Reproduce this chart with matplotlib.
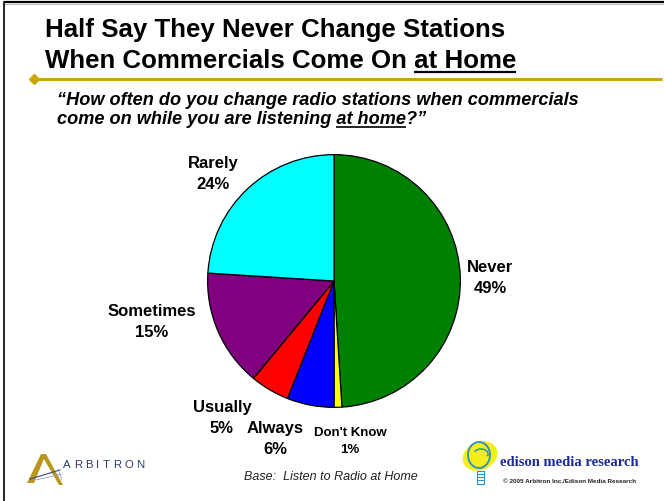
import matplotlib

matplotlib.use("Agg")

import matplotlib.pyplot as plt
from matplotlib.patches import Ellipse, Polygon, Rectangle, Arc

plt.rcParams["font.family"] = ["Liberation Sans", "DejaVu Sans"]

# survey answers, clockwise from 12 o'clock
categories = ["Never", "Don't Know", "Always", "Usually", "Sometimes", "Rarely"]
shares = [49, 1, 6, 5, 15, 24]
colors = ["#008000", "#FFFF00", "#0000FF", "#FF0000", "#800080", "#00FFFF"]

W, H = 664, 502
GOLD = "#C9A610"

fig = plt.figure(figsize=(W / 100, H / 100), dpi=100)
fig.patch.set_facecolor("white")

# full-slide axes in pixel units for text and decorations
bg = fig.add_axes([0, 0, 1, 1])
bg.set_xlim(0, W)
bg.set_ylim(H, 0)
bg.axis("off")

# slide frame
bg.plot([4, W], [3, 3], color="black", lw=1.6, solid_capstyle="butt")
bg.plot([4, W], [4.8, 4.8], color="#B0B0B0", lw=0.6)
bg.plot([4, 4], [3, H], color="black", lw=1.2)

# gold rule with diamond
bg.plot([34, 662], [79.5, 79.5], color=GOLD, lw=2.2, solid_capstyle="butt")
bg.plot([34], [79.5], marker="D", ms=5, color=GOLD, mec=GOLD)

renderer = fig.canvas.get_renderer()
inv = bg.transData.inverted()


def text_width(s, **kw):
    t = bg.text(0, 0, s, **kw)
    bb = t.get_window_extent(renderer)
    t.remove()
    (x0, _), (x1, _) = inv.transform([[bb.x0, bb.y0], [bb.x1, bb.y1]])
    return abs(x1 - x0)


def right_edge(t):
    bb = t.get_window_extent(renderer)
    return inv.transform([[bb.x1, bb.y0]])[0][0]


title_kw = dict(fontsize=18.6, fontweight="bold", color="black", ha="left", va="baseline")
bg.text(45, 37, "Half Say They Never Change Stations", **title_kw)
t2 = bg.text(45, 67.5, "When Commercials Come On at Home", **title_kw)
x_end = right_edge(t2)
w_at = text_width("at Home", **title_kw)
bg.plot([x_end - w_at, x_end], [72.5, 72.5], color="black", lw=1.6, solid_capstyle="butt")

sub_kw = dict(fontsize=13.1, fontweight="bold", style="italic", color="black",
              ha="left", va="baseline")
bg.text(57, 105, "\u201cHow often do you change radio stations when commercials", **sub_kw)
s2 = bg.text(57, 124, "come on while you are listening at home?\u201d", **sub_kw)
x_end = right_edge(s2)
w_tail = text_width("?\u201d", **sub_kw)
w_ul = text_width("at home?\u201d", **sub_kw)
bg.plot([x_end - w_ul, x_end - w_tail], [128, 128], color="black", lw=1.2, solid_capstyle="butt")

# pie, centre (334, 282) px, radius 127 px
cx, cy, r = 334, 282, 127
pie_ax = fig.add_axes([(cx - r) / W, (H - cy - r) / H, 2 * r / W, 2 * r / H])
pie_ax.pie(shares, colors=colors, startangle=90, counterclock=False,
           wedgeprops=dict(edgecolor="black", linewidth=0.9))
pie_ax.set_xlim(-1.005, 1.005)
pie_ax.set_ylim(-1.005, 1.005)
pie_ax.set_aspect("auto")

# slice labels (text anchor positions in px)
label_pos = {
    "Never": (490, 272),
    "Rarely": (213, 168),
    "Sometimes": (152, 316),
    "Usually": (222, 412),
    "Always": (275, 433),
    "Don't Know": (350, 436),
}
for name, val in zip(categories, shares):
    x, y = label_pos[name]
    fs = 9.5 if name == "Don't Know" else 12
    gap = 17 if name == "Don't Know" else 21
    kw = dict(fontsize=fs, fontweight="bold", ha="center", va="baseline")
    bg.text(x, y, name, **kw)
    bg.text(x, y + gap, f"{val}%", **kw)

bg.text(331, 480, "Base:  Listen to Radio at Home", fontsize=9, style="italic",
        ha="center", va="baseline", color="#222222")

# Arbitron mark
bg.add_patch(Polygon([[27, 484], [41, 455], [46, 455], [34, 484]], closed=True,
                     fc="#B8981C", ec="none"))
bg.add_patch(Polygon([[41, 455], [46, 455], [63, 486], [59, 486]], closed=True,
                     fc="#B8981C", ec="none"))
bg.plot([30, 60], [480, 471], color="#3A4A8A", lw=0.8)
bg.plot([36, 62], [481, 475], color="#8090C0", lw=0.5)
bg.plot([58, 62], [470, 481], color="#8090C0", lw=0.5)
x = 63
for ch in "ARBITRON":
    bg.text(x, 468, ch, fontsize=8.2, color="#2E3A6E", ha="left", va="baseline")
    x += text_width(ch, fontsize=8.2) + 3.3

# Edison mark
bg.add_patch(Ellipse((480, 457), 36, 28, angle=-25, fc="#F4EE1A", ec="none"))
bg.add_patch(Ellipse((479, 456), 22, 26, fc="none", ec="#2A8CC8", lw=1.3))
bg.add_patch(Arc((481, 455), 14, 10, theta1=200, theta2=20, ec="#2A8CC8", lw=1.1))
bg.add_patch(Rectangle((477, 472), 7, 13, fc="white", ec="#2A8CC8", lw=0.8))
for yy in (475, 478, 481):
    bg.plot([477, 484], [yy, yy], color="#2A8CC8", lw=0.7)
bg.text(500, 466, "edison media research", family="Liberation Serif", fontsize=10.5,
        fontweight="bold", color="#1A2A9A", ha="left", va="baseline")
bg.text(503, 483.5, "\u00a9 2005 Arbitron Inc./Edison Media Research", fontsize=4.6,
        fontweight="bold", color="#222222", ha="left", va="baseline")

fig.savefig("out.png", dpi=100, facecolor="white")
